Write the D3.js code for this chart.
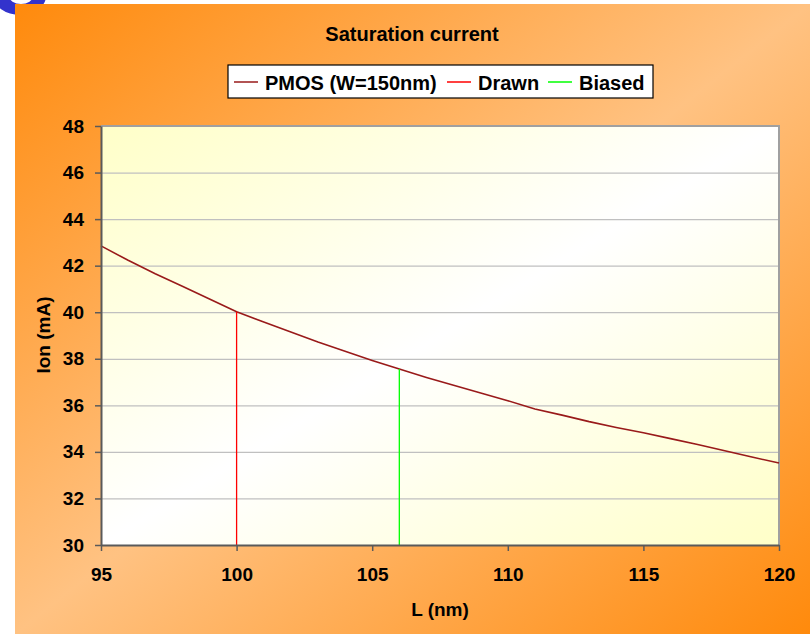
<!DOCTYPE html>
<html lang="en">
    <head>
        <meta charset="utf-8">
        <title>Saturation current</title>
        <script src="https://d3js.org/d3.v7.min.js"></script>
        <style type="text/css">
            body { margin: 0; background: #ffffff; }
            svg text { font-family: "Liberation Sans", Arial, sans-serif; font-weight: bold; fill: #000; }
            .axis path { stroke: #5a5a5a; stroke-width: 2; }
            .axis line { stroke: #5a5a5a; stroke-width: 1.5; }
            .axis text { font-size: 19px; }
            .grid line { stroke: #c0c0c0; stroke-width: 1.2; }
            .grid path { display: none; }
        </style>
    </head>
    <body>
        <script type="text/javascript">
        //Data
        const lengths = [95, 96, 97, 98, 99, 100, 101, 102, 103, 104, 105, 106, 107,
                         108, 109, 110, 111, 112, 113, 114, 115, 116, 117, 118, 119, 120];
        const ionPmos = [42.85, 42.23, 41.65, 41.12, 40.57, 40.02, 39.58, 39.15, 38.72,
                         38.32, 37.93, 37.56, 37.20, 36.86, 36.53, 36.20, 35.84, 35.58,
                         35.30, 35.05, 34.82, 34.57, 34.32, 34.05, 33.78, 33.52];
        const drawnL = [100, 100];
        const drawnIon = [30, 40.02];
        const biasedL = [106, 106];
        const biasedIon = [30, 37.56];

        const xTicks = [95, 100, 105, 110, 115, 120];
        const yTicks = [30, 32, 34, 36, 38, 40, 42, 44, 46, 48];
        const seriesNames = ["PMOS (W=150nm)", "Drawn", "Biased"];
        const seriesColors = ["#991a1a", "#ff0000", "#00ff00"];

        //Constants
        const w = 810;
        const h = 634;
        const plotLeft = 101;
        const plotRight = 779;
        const plotTop = 126;
        const plotBottom = 545;

        const svg = d3.select("body")
                      .append("svg")
                      .attr("width", w)
                      .attr("height", h);

        const defs = svg.append("defs");

        //background gradients
        const bgGrad = defs.append("linearGradient")
            .attr("id", "bgGrad")
            .attr("x1", 0).attr("y1", 0).attr("x2", 1).attr("y2", 1);
        bgGrad.append("stop").attr("offset", "0%").attr("stop-color", "#ff8a0c");
        bgGrad.append("stop").attr("offset", "50%").attr("stop-color", "#ffc282");
        bgGrad.append("stop").attr("offset", "100%").attr("stop-color", "#ff8a0c");

        const plotGrad = defs.append("linearGradient")
            .attr("id", "plotGrad")
            .attr("x1", 0).attr("y1", 0).attr("x2", 1).attr("y2", 1);
        plotGrad.append("stop").attr("offset", "0%").attr("stop-color", "#ffffc8");
        plotGrad.append("stop").attr("offset", "50%").attr("stop-color", "#ffffff");
        plotGrad.append("stop").attr("offset", "100%").attr("stop-color", "#ffffc8");

        //blue logo fragment in the corner
        svg.append("path")
            .attr("d", "M-6,-4 a26,19 0 1,0 52,0 a26,19 0 1,0 -52,0 Z M9,-4 a12,8 0 1,1 24,0 a12,8 0 1,1 -24,0 Z")
            .attr("fill", "#3333cc")
            .attr("fill-rule", "evenodd");

        svg.append("rect")
            .attr("x", 15)
            .attr("y", 4)
            .attr("width", w - 15)
            .attr("height", h - 4)
            .attr("fill", "url(#bgGrad)");

        //Scales
        const xScale = d3.scaleLinear()
                         .domain([95, 120])
                         .range([plotLeft, plotRight]);

        const yScale = d3.scaleLinear()
                         .domain([30, 48])
                         .range([plotBottom, plotTop]);

        //plot area
        svg.append("rect")
            .attr("x", plotLeft)
            .attr("y", plotTop)
            .attr("width", plotRight - plotLeft)
            .attr("height", plotBottom - plotTop)
            .attr("fill", "url(#plotGrad)");

        //gridlines
        svg.append("g")
            .attr("class", "grid")
            .attr("transform", "translate(" + plotLeft + ",0)")
            .call(d3.axisLeft(yScale)
                    .tickValues(yTicks.filter(v => v > 30 && v < 48))
                    .tickSize(-(plotRight - plotLeft))
                    .tickFormat(""));

        //top and right border
        svg.append("path")
            .attr("d", "M" + plotLeft + "," + yScale(48) + "H" + xScale(120) + "V" + yScale(30))
            .attr("fill", "none")
            .attr("stroke", "#a0a0a0")
            .attr("stroke-width", 2);

        //Lines
        const line = d3.line()
                       .x(d => xScale(d[0]))
                       .y(d => yScale(d[1]));

        svg.append("path")
            .datum(d3.zip(lengths, ionPmos))
            .attr("d", line)
            .attr("fill", "none")
            .attr("stroke", seriesColors[0])
            .attr("stroke-width", 1.6);

        svg.append("path")
            .datum(d3.zip(drawnL, drawnIon))
            .attr("d", line)
            .attr("fill", "none")
            .attr("stroke", seriesColors[1])
            .attr("stroke-width", 1.3);

        svg.append("path")
            .datum(d3.zip(biasedL, biasedIon))
            .attr("d", line)
            .attr("fill", "none")
            .attr("stroke", seriesColors[2])
            .attr("stroke-width", 1.3);

        //Axes
        svg.append("g")
            .attr("class", "axis")
            .attr("transform", "translate(0," + plotBottom + ")")
            .call(d3.axisBottom(xScale)
                    .tickValues(xTicks)
                    .tickSize(6)
                    .tickSizeOuter(0)
                    .tickPadding(17));

        svg.append("g")
            .attr("class", "axis")
            .attr("transform", "translate(" + plotLeft + ",0)")
            .call(d3.axisLeft(yScale)
                    .tickValues(yTicks)
                    .tickSize(6)
                    .tickSizeOuter(0)
                    .tickPadding(11));

        //Labels
        svg.append("text")
            .attr("x", 412)
            .attr("y", 41)
            .attr("text-anchor", "middle")
            .attr("font-size", "20px")
            .text("Saturation current");

        svg.append("text")
            .attr("x", 440)
            .attr("y", 616)
            .attr("text-anchor", "middle")
            .attr("font-size", "19px")
            .text("L (nm)");

        svg.append("text")
            .attr("transform", "translate(50,335) rotate(-90)")
            .attr("text-anchor", "middle")
            .attr("font-size", "19px")
            .text("Ion (mA)");

        //Legend
        const legend = svg.append("g");
        legend.append("rect")
            .attr("x", 228)
            .attr("y", 65)
            .attr("width", 425)
            .attr("height", 33)
            .attr("fill", "#ffffff")
            .attr("stroke", "#000000")
            .attr("stroke-width", 1.2);

        const legendX = [234, 447, 548];
        seriesNames.forEach((name, i) => {
            legend.append("line")
                .attr("x1", legendX[i])
                .attr("x2", legendX[i] + 24)
                .attr("y1", 82)
                .attr("y2", 82)
                .attr("stroke", seriesColors[i])
                .attr("stroke-width", 1.5);
            legend.append("text")
                .attr("x", legendX[i] + 31)
                .attr("y", 90)
                .attr("font-size", "20px")
                .text(name);
        });
        </script>
    </body>
</html>
